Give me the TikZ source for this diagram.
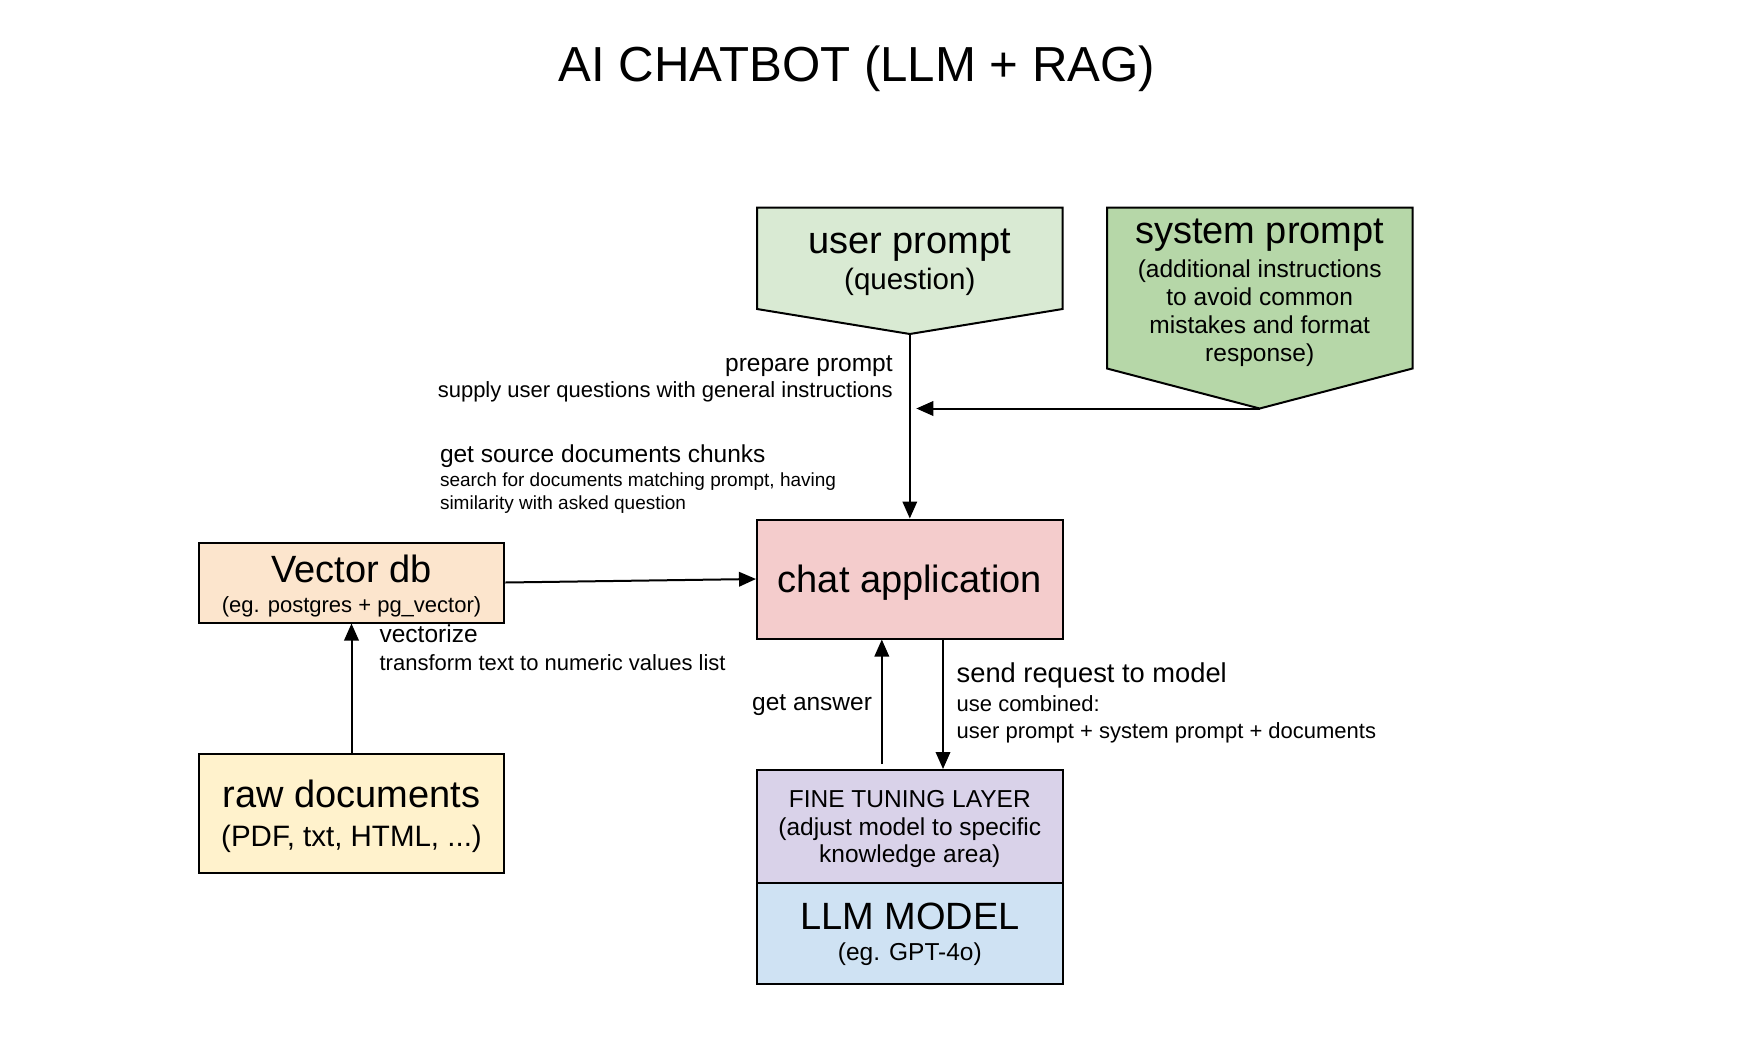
\documentclass[tikz,border=0pt]{standalone}
\usepackage{fontspec}
\setmainfont{Liberation Sans}
\usetikzlibrary{arrows.meta,calc}
\definecolor{userfill}{HTML}{D9EAD3}
\definecolor{sysfill}{HTML}{B6D7A8}
\definecolor{chatfill}{HTML}{F4CCCC}
\definecolor{vecfill}{HTML}{FCE5CD}
\definecolor{rawfill}{HTML}{FFF2CC}
\definecolor{ftfill}{HTML}{D9D2E9}
\definecolor{llmfill}{HTML}{CFE2F3}
\newcommand{\myfs}[1]{\fontsize{#1}{#1}\selectfont}
\begin{document}
\begin{tikzpicture}[x=1pt,y=-1pt,
  box/.style={draw=black, line width=2pt, inner sep=0pt},
  shapeline/.style={draw=black, line width=2pt, line join=miter},
  lbl/.style={inner sep=0pt, outer sep=0pt},
  arr/.style={line width=2pt, -{Triangle[length=17pt,width=14.5pt]}},
  big/.style={lbl, font=\myfs{38}},
  mid/.style={lbl, font=\myfs{29.5}},
  sml/.style={lbl, font=\myfs{24.5}},
  tiny/.style={lbl, font=\myfs{22}},
  micro/.style={lbl, font=\myfs{19}}]
\useasboundingbox (0,0) rectangle (1741,1058);
\fill[white] (0,0) rectangle (1741,1058);

% title
\node[lbl, font=\myfs{49.2}, anchor=base] (title) at (857,81) {AI CHATBOT (LLM + RAG)};

% user prompt (pentagon)
\draw[shapeline, fill=userfill] (757,207.5) -- (1062.6,207.5) -- (1062.6,309) -- (909.8,334) -- (757,309) -- cycle;
\coordinate (uptip) at (909.8,334);
\node[big, anchor=base] (uptxt) at (909.8,253) {user prompt};
\node[mid, anchor=base] (uptxt2) at (909.8,289) {(question)};

% system prompt (pentagon)
\draw[shapeline, fill=sysfill] (1107,207.5) -- (1412.5,207.5) -- (1412.5,368.5) -- (1259.7,408.5) -- (1107,368.5) -- cycle;
\coordinate (systip) at (1259.7,408.5);
\node[big, anchor=base] (sptxt) at (1259.7,243) {system prompt};
\node[sml, anchor=base] (sp1) at (1259.7,277) {(additional instructions};
\node[sml, anchor=base] (sp2) at (1259.7,305.5) {to avoid common};
\node[sml, anchor=base] (sp3) at (1259.7,333.5) {mistakes and format};
\node[sml, anchor=base] (sp4) at (1259.7,361.5) {response)};

% chat application
\node[box, fill=chatfill, minimum width=305.6pt, minimum height=119pt] (chat) at (909.8,579) {};
\node[big, anchor=base] (chattxt) at (909.8,592.3) {chat application};

% vector db
\node[box, fill=vecfill, minimum width=305.6pt, minimum height=80pt] (vec) at (351.5,582.5) {};
\node[big, anchor=base] (vectxt) at (351.5,582.3) {Vector db};
\node[tiny, anchor=base] (vectxt2) at (351.5,612.7) {(eg. postgres + pg\_vector)};

% raw documents
\node[box, fill=rawfill, minimum width=305.6pt, minimum height=119.5pt] (raw) at (351.5,813.25) {};
\node[big, anchor=base] (rawtxt) at (351.5,807.7) {raw documents};
\node[mid, anchor=base] (rawtxt2) at (351.5,846.7) {(PDF, txt, HTML, ...)};

% fine tuning layer
\node[box, fill=ftfill, minimum width=305.6pt, minimum height=113pt] (ft) at (909.8,826.5) {};
\node[sml, anchor=base] (ft1) at (909.8,807.3) {FINE TUNING LAYER};
\node[sml, anchor=base] (ft2) at (909.8,835) {(adjust model to specific};
\node[sml, anchor=base] (ft3) at (909.8,862.3) {knowledge area)};

% llm model
\node[box, fill=llmfill, minimum width=305.6pt, minimum height=101pt] (llm) at (909.8,933.5) {};
\node[big, anchor=base] (llm1) at (909.8,929.3) {LLM MODEL};
\node[sml, anchor=base] (llm2) at (909.8,960.7) {(eg. GPT-4o)};

% connectors
\coordinate (sysend) at (916.3,408.5);
\draw[arr] (uptip) -- (chat.north);
\draw[arr] (systip) -- (sysend);
\draw[arr] (vec.east) -- (chat.west);
\draw[arr] (raw.north) -- (vec.south);
\draw[arr] ([xshift=-28pt,yshift=5pt]ft.north) -- ([xshift=-28pt]chat.south);
\draw[arr] ([xshift=33.2pt]chat.south) -- ([xshift=33.2pt]ft.north);

% connector labels
\node[sml, anchor=base east] (prep1) at (892.7,371.5) {prepare prompt};
\node[tiny, anchor=base east] (prep2) at (892.7,397.3) {supply user questions with general instructions};
\node[sml, anchor=base west] (gs1) at (440,462.3) {get source documents chunks};
\node[micro, anchor=base west] (gs2) at (440,486.7) {search for documents matching prompt, having};
\node[micro, anchor=base west] (gs3) at (440,509) {similarity with asked question};
\node[sml, anchor=base west] (vz1) at (379.6,642.7) {vectorize};
\node[tiny, anchor=base west] (vz2) at (379.6,670) {transform text to numeric values list};
\node[sml, anchor=base east] (ga) at (872,710.7) {get answer};
\node[lbl, font=\myfs{27.3}, anchor=base west] (sr1) at (956.7,682.3) {send request to model};
\node[tiny, anchor=base west] (sr2) at (956.7,711.7) {use combined:};
\node[tiny, anchor=base west] (sr3) at (956.7,738.3) {user prompt + system prompt + documents};
\end{tikzpicture}
\end{document}
